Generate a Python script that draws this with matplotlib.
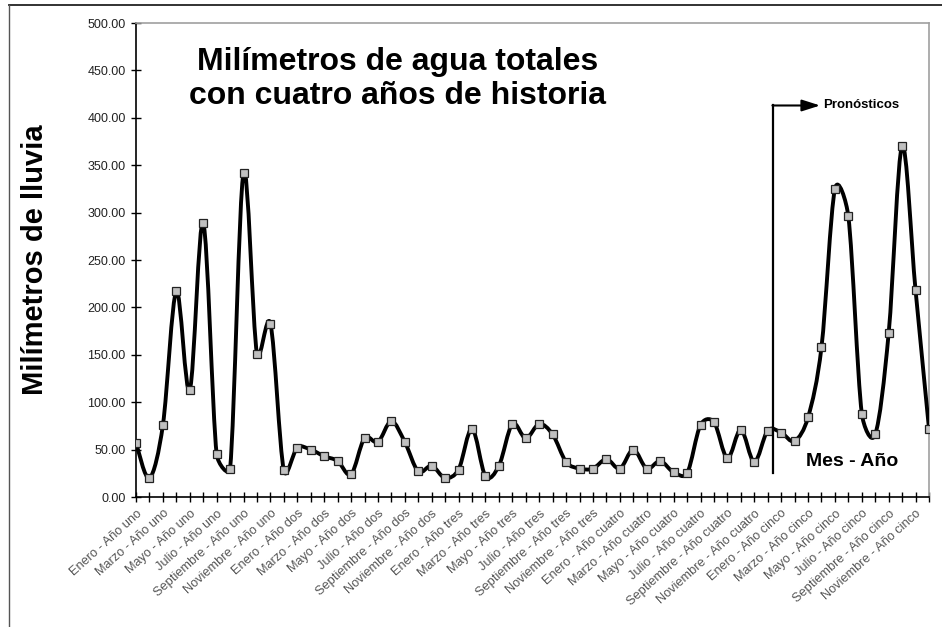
import numpy as np
import matplotlib
matplotlib.use("Agg")
import matplotlib.pyplot as plt
from matplotlib.path import Path
from matplotlib.patches import PathPatch
from matplotlib.lines import Line2D

plt.rcParams["font.family"] = ["Liberation Sans", "DejaVu Sans"]

meses = ["Enero", "Febrero", "Marzo", "Abril", "Mayo", "Junio", "Julio",
         "Agosto", "Septiembre", "Octubre", "Noviembre", "Diciembre"]
anios = ["uno", "dos", "tres", "cuatro", "cinco"]

lluvia_uno = [57, 20, 76, 217, 113, 289, 45, 30, 342, 151, 183, 28]
lluvia_dos = [52, 50, 43, 38, 24, 62, 58, 80, 58, 27, 33, 20]
lluvia_tres = [29, 72, 22, 33, 77, 62, 77, 66, 37, 30, 30, 40]
lluvia_cuatro = [30, 50, 30, 38, 26, 25, 76, 79, 41, 71, 37, 70]
lluvia_cinco = [68, 59, 84, 158, 325, 296, 88, 66, 173, 370, 218, 72]

valores = np.array(lluvia_uno + lluvia_dos + lluvia_tres + lluvia_cuatro + lluvia_cinco, dtype=float)
etiquetas = [f"{m} - Año {a}" for a in anios for m in meses]
x = np.arange(len(valores))

# posición de la línea de pronóstico (entre categorías)
x_pronostico = 47.4

FIG_W, FIG_H = 9.42, 6.27
AX_RECT = [0.1444, 0.2073, 0.8418, 0.7560]
Y_MAX = 500


def curva_suave(xs, ys, sx, sy):
    # Bezier cúbico por tramos (estilo línea suavizada de hoja de cálculo):
    # tangente = (siguiente - anterior) / 6, limitada a media cuerda, en píxeles
    pts = np.column_stack([xs * sx, ys * sy])
    n = len(pts)
    verts = [pts[0]]
    codes = [Path.MOVETO]

    def desplazamiento(i, cuerda):
        d = (pts[min(i + 1, n - 1)] - pts[max(i - 1, 0)]) / 6.0
        largo = np.hypot(*d)
        tope = cuerda / 2.0
        if largo > tope:
            d = d * tope / largo
        return d

    for i in range(n - 1):
        p1, p2 = pts[i], pts[i + 1]
        cuerda = np.hypot(*(p2 - p1))
        c1 = p1 + desplazamiento(i, cuerda)
        c2 = p2 - desplazamiento(i + 1, cuerda)
        verts += [c1, c2, p2]
        codes += [Path.CURVE4] * 3
    verts = np.array(verts) / np.array([sx, sy])
    return Path(verts, codes)


fig = plt.figure(figsize=(FIG_W, FIG_H), dpi=100)
ax = fig.add_axes(AX_RECT)

sx = AX_RECT[2] * FIG_W * 100 / (len(valores) - 1)
sy = AX_RECT[3] * FIG_H * 100 / Y_MAX
ax.add_patch(PathPatch(curva_suave(x, valores, sx, sy), facecolor="none",
                       edgecolor="black", lw=2.8, capstyle="round",
                       joinstyle="round", zorder=3))
ax.plot(x, valores, ls="none", marker="s", ms=5.5, mfc="#c0c0c0",
        mec="#222222", mew=0.9, zorder=4)

ax.set_xlim(0, len(valores) - 1)
ax.set_ylim(0, Y_MAX)
ax.set_yticks(np.arange(0, Y_MAX + 1, 50))
ax.set_yticklabels([f"{v:.2f}" for v in np.arange(0, Y_MAX + 1, 50)],
                   fontsize=9, color="#222222")
ax.set_xticks(x)
ax.set_xticklabels([e if i % 2 == 0 else "" for i, e in enumerate(etiquetas)],
                   rotation=42, ha="right", rotation_mode="anchor",
                   fontsize=9.2, color="#555555")
ax.tick_params(axis="both", direction="inout", length=7, width=1, color="black")
ax.tick_params(axis="x", pad=4)
ax.tick_params(axis="y", pad=4)

for lado in ["top", "right"]:
    ax.spines[lado].set_color("#a0a0a0")
    ax.spines[lado].set_linewidth(1.2)
for lado in ["left", "bottom"]:
    ax.spines[lado].set_color("black")
    ax.spines[lado].set_linewidth(1.2)

ax.set_ylabel("Milímetros de lluvia", fontsize=21, fontweight="bold")
ax.yaxis.set_label_coords(-0.11, 0.5)

ax.text(0.33, 0.882, "Milímetros de agua totales\ncon cuatro años de historia",
        transform=ax.transAxes, ha="center", va="center", fontsize=23,
        fontweight="bold", linespacing=1.15)

# línea que separa el histórico de los pronósticos
ax.plot([x_pronostico, x_pronostico], [25, 413], color="black", lw=1.6, zorder=5)
ax.annotate("", xy=(50.9, 413), xytext=(x_pronostico - 0.05, 413),
            arrowprops=dict(arrowstyle="-|>,head_length=1.1,head_width=0.35",
                            color="black", lw=1.5, shrinkA=0, shrinkB=0))
ax.text(51.1, 413, "Pronósticos", ha="left", va="center", fontsize=9.5,
        fontweight="bold")
ax.text(53.3, 37, "Mes - Año", ha="center", va="center", fontsize=14,
        fontweight="bold")

# marco exterior
fig.add_artist(Line2D([0.0096, 1.0], [0.992, 0.992], transform=fig.transFigure,
                      color="#222222", lw=1.3))
fig.add_artist(Line2D([0.0096, 0.0096], [0.0, 0.992], transform=fig.transFigure,
                      color="#555555", lw=1.0))

fig.savefig("out.png", dpi=100)
